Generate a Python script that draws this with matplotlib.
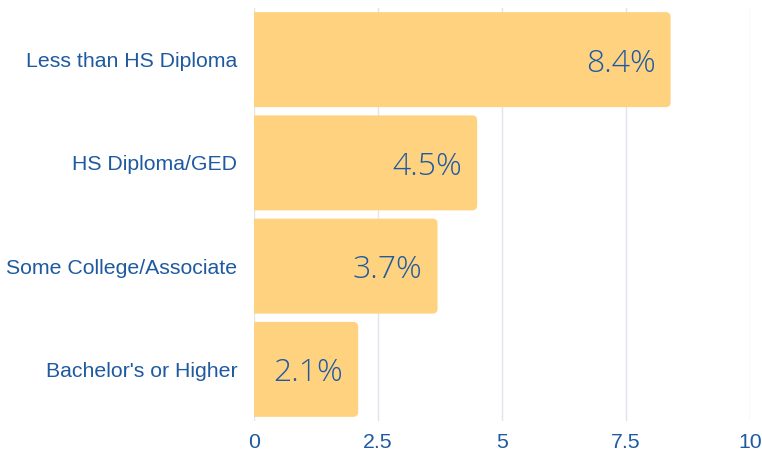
import matplotlib
matplotlib.use("Agg")
import matplotlib.pyplot as plt
from matplotlib.patches import FancyBboxPatch

categories = ["Less than HS Diploma", "HS Diploma/GED", "Some College/Associate", "Bachelor's or Higher"]
values = [8.4, 4.5, 3.7, 2.1]
xticks = [0, 2.5, 5, 7.5, 10]
xtick_labels = ["0", "2.5", "5", "7.5", "10"]

bar_color = "#FFD280"
text_color = "#1F5AA0"
grid_color = "#E1E4EC"

fig = plt.figure(figsize=(7.62, 4.51), dpi=100)
ax = fig.add_axes([254 / 762, 30 / 451, 496 / 762, 413 / 451])

ax.set_xlim(0, 10)
ax.set_ylim(len(categories) - 0.5, -0.5)

# pixel -> data scale for rounding corners
px_x = 10 / 496
px_y = len(categories) / 413
radius_px = 5

bar_h = 0.92
for i, v in enumerate(values):
    y0 = i - bar_h / 2
    box = FancyBboxPatch(
        (-1, y0 + radius_px * px_y), v + 1 - radius_px * px_x, bar_h - 2 * radius_px * px_y,
        boxstyle=f"round,pad={radius_px * px_x},rounding_size={radius_px * px_x}",
        mutation_aspect=px_y / px_x,
        facecolor=bar_color, edgecolor="none", zorder=2, clip_on=True)
    ax.add_patch(box)
    ax.annotate(f"{v}%", xy=(v, i), xytext=(-15, -4), textcoords="offset pixels",
                ha="right", va="center", fontsize=23, color=text_color,
                family="Open Sans", fontweight="light", zorder=3)

ax.set_xticks(xticks)
ax.set_xticklabels(xtick_labels)
ax.set_yticks(range(len(categories)))
ax.set_yticklabels(categories)
ax.grid(axis="x", color=grid_color, linewidth=1, zorder=0)
ax.set_axisbelow(True)
for s in ax.spines.values():
    s.set_visible(False)
ax.tick_params(axis="both", length=0, labelsize=15.3, labelcolor=text_color)
ax.tick_params(axis="y", pad=12)
ax.tick_params(axis="x", pad=9)
for lbl in ax.get_xticklabels() + ax.get_yticklabels():
    lbl.set_family("Liberation Sans")

fig.savefig("out.png", dpi=100)
